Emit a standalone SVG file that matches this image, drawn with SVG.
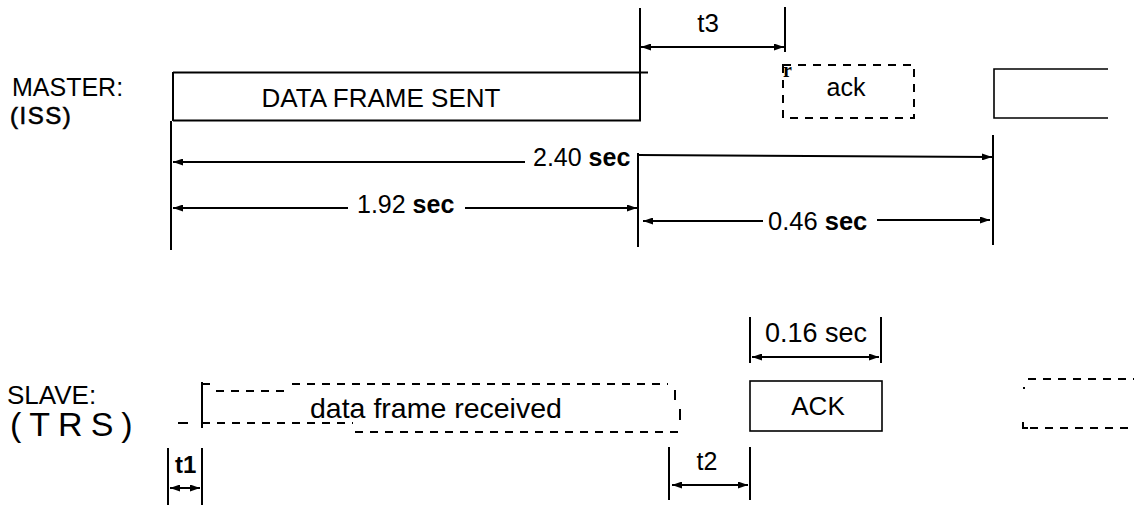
<svg xmlns="http://www.w3.org/2000/svg" width="1134" height="505" viewBox="0 0 1134 505">
<style>
text{font-family:"Liberation Sans",Arial,sans-serif;fill:#000}
.ln{stroke:#000;stroke-width:2;fill:none}
.th{stroke:#000;stroke-width:1.6;fill:none}
.ds{stroke:#000;stroke-width:2;fill:none;stroke-dasharray:8 7}
.b{font-weight:bold}
.arr{stroke:#000;stroke-width:2;fill:none;marker-end:url(#ah)}
.arl{stroke:#000;stroke-width:2;fill:none;marker-start:url(#ah)}
.arb{stroke:#000;stroke-width:2;fill:none;marker-start:url(#ah);marker-end:url(#ah)}
</style>
<defs>
<marker id="ah" viewBox="0 0 10 7" refX="10" refY="3.5" markerWidth="10" markerHeight="7" markerUnits="userSpaceOnUse" orient="auto-start-reverse">
<path d="M0,0 L10,3.5 L0,7 z" fill="#000"/>
</marker>
</defs>
<rect width="1134" height="505" fill="#fff"/>

<g id="master-label">
<text x="12" y="96" font-size="25">MASTER:</text>
<text x="10" y="124" font-size="24" letter-spacing="1.5" stroke="#000" stroke-width="0.6">(ISS)</text>
</g>

<g id="slave-label">
<text x="7" y="404" font-size="26">SLAVE:</text>
<text x="10" y="436" font-size="34" letter-spacing="8">(TRS)</text>
</g>

<g id="data-frame-sent">
<path class="ln" d="M173,72.5 H648 M173,120.5 H641 M173,72 V121 M640,8 V121"/>
<text x="381" y="107" font-size="26" text-anchor="middle">DATA FRAME SENT</text>
</g>

<g id="ack-master">
<rect class="ds" x="783" y="65" width="131" height="53"/>
<text x="783" y="77" font-size="20" font-weight="bold" style="font-family:'Liberation Serif',serif">r</text>
<text x="846" y="96" font-size="25" text-anchor="middle">ack</text>
</g>

<g id="master-next">
<path class="th" d="M1108,69 H994 V118 H1108"/>
</g>

<g id="data-frame-received">
<path class="ln" d="M178,423 H188 M202,382 V428 M675,390 V400 M680,409 V420"/>
<path class="ds" d="M202,384 H214 M216,391 H290 M292,384 H668 M202,423 H353 M355,432 H682"/>
<text x="310" y="418" font-size="28.5">data frame received</text>
</g>

<g id="ack-slave">
<rect class="th" x="750" y="381" width="132" height="50"/>
<text x="818" y="415" font-size="26" text-anchor="middle">ACK</text>
</g>

<g id="slave-next">
<path class="ds" d="M1028,379 H1134 M1030,428 H1134"/>
<path class="ln" d="M1023,422 V428 H1028 M1024,387 V389"/>
</g>

<g id="connectors">
<path class="ln" d="M171,121 V250 M638,153 V247 M785,7 V52"/>
<path class="ln" stroke-width="2.5" d="M993,135 V245"/>
<line class="arb" x1="641" y1="47" x2="784" y2="47"/>
<text x="708" y="32" font-size="26" text-anchor="middle">t3</text>
<line class="arl" x1="173" y1="162" x2="525" y2="162"/>
<line class="arr" x1="638" y1="155" x2="992" y2="157"/>
<text x="533" y="166" font-size="25">2.40 <tspan class="b">sec</tspan></text>
<line class="arl" x1="173" y1="208" x2="348" y2="208"/>
<line class="arr" x1="465" y1="208" x2="637" y2="208"/>
<text x="357" y="213" font-size="25">1.92 <tspan class="b">sec</tspan></text>
<line class="arl" x1="643" y1="221" x2="763" y2="221"/>
<line class="arr" x1="877" y1="220" x2="990" y2="220"/>
<text x="768" y="230" font-size="25.5">0.46 <tspan class="b">sec</tspan></text>
<path class="ln" d="M750,317 V363 M881,317 V363"/>
<line class="arb" x1="752" y1="357" x2="879" y2="357"/>
<text x="765" y="342" font-size="27">0.16 sec</text>
<path class="ln" d="M168,448 V505 M202,448 V505"/>
<line class="arb" x1="170" y1="488" x2="200" y2="488"/>
<text x="175" y="473" font-size="24" font-weight="bold">t1</text>
<path class="ln" d="M669,447 V500 M750,447 V500"/>
<line class="arb" x1="672" y1="485" x2="748" y2="485"/>
<text x="707" y="470" font-size="25" text-anchor="middle">t2</text>
</g>
</svg>
